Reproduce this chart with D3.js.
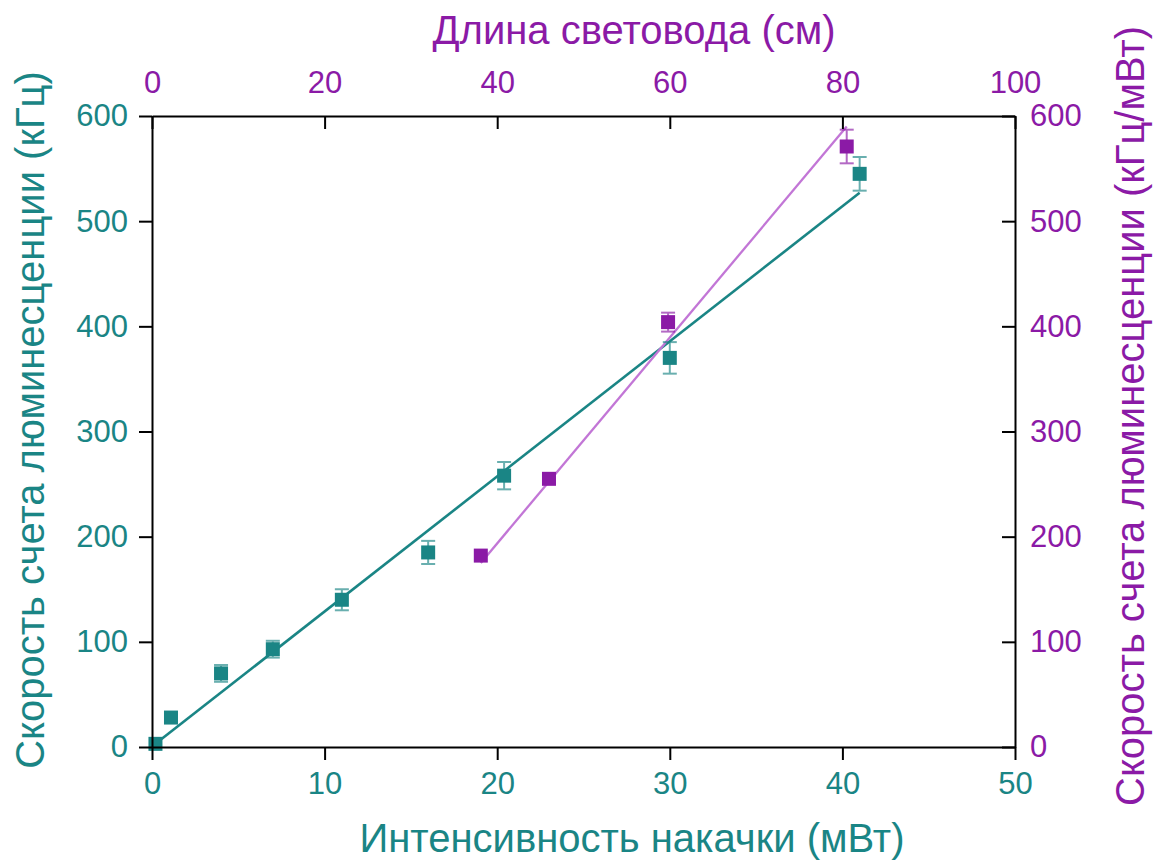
<!DOCTYPE html>
<html>
<head>
<meta charset="utf-8">
<script src="https://cdn.jsdelivr.net/npm/d3@7"></script>
<style>
  html, body { margin: 0; padding: 0; background: #ffffff; }
  svg { display: block; }
  text { font-family: "Liberation Sans", Arial, sans-serif; }
</style>
</head>
<body>
<svg id="chart" width="1157" height="861"></svg>
<script>
// Pump power series (bottom / left axes)
const powerX = [0.2, 1.1, 4.0, 7.0, 11.0, 16.0, 20.4, 30.0, 41.0];
const powerRate = [3, 28, 70, 93, 140, 185, 258, 370, 545];
const powerErr = [0, 3, 8, 8, 10, 11, 13, 15, 16];
const powerFitX = [0.2, 41.0];
const powerFitY = [3, 527];

// Fibre length series (top / right axes)
const lengthX = [38.1, 46.0, 59.8, 80.5];
const lengthRate = [182, 255, 404, 571];
const lengthErr = [0, 0, 9, 16];
const lengthFitX = [38.1, 80.5];
const lengthFitY = [175, 590];

// Axis ticks
const bottomTicks = [0, 10, 20, 30, 40, 50];
const bottomMinor = [5, 15, 25, 35, 45];
const topTicks = [0, 20, 40, 60, 80, 100];
const topMinor = [10, 30, 50, 70, 90];
const yTicks = [0, 100, 200, 300, 400, 500, 600];
const yMinor = [50, 150, 250, 350, 450, 550];

const TEAL = "#1a8585";
const PURPLE = "#8b1aa6";
const PURPLE_LINE = "#c276d6";

const L = 152, R = 1015, T = 116, B = 747;

const svg = d3.select("#chart");

const x = d3.scaleLinear().domain([0, 50]).range([L, R]);
const xTop = d3.scaleLinear().domain([0, 100]).range([L, R]);
const y = d3.scaleLinear().domain([0, 600]).range([B, T]);
const yRight = d3.scaleLinear().domain([0, 600]).range([B, T]);

const majorLen = 13, minorLen = 7;

function styleAxis(g, color) {
  g.select(".domain").attr("stroke", "#000").attr("stroke-width", 2);
  g.selectAll(".tick line").attr("stroke", "#000").attr("stroke-width", 2);
  g.selectAll(".tick text")
    .attr("fill", color)
    .style("font-size", "31px")
    .style("font-family", "'Liberation Sans', Arial, sans-serif");
}

// Fit lines
const line = d3.line().x(d => d[0]).y(d => d[1]);
svg.append("path")
  .attr("d", line(powerFitX.map((v, i) => [x(v), y(powerFitY[i])])))
  .attr("fill", "none").attr("stroke", TEAL).attr("stroke-width", 2.6);
svg.append("path")
  .attr("d", line(lengthFitX.map((v, i) => [xTop(v), yRight(lengthFitY[i])])))
  .attr("fill", "none").attr("stroke", PURPLE_LINE).attr("stroke-width", 2.3);

// Error bars and markers
function drawSeries(xs, ys, errs, sx, sy, color, size) {
  const g = svg.append("g");
  xs.forEach((xv, i) => {
    const e = errs[i];
    if (e > 0) {
      const cx = sx(xv), y1 = sy(ys[i] - e), y2 = sy(ys[i] + e);
      const eb = g.append("g").attr("stroke", color).attr("stroke-width", 2).attr("opacity", 0.65);
      eb.append("line").attr("x1", cx).attr("x2", cx).attr("y1", y1).attr("y2", y2);
      eb.append("line").attr("x1", cx - 7).attr("x2", cx + 7).attr("y1", y1).attr("y2", y1);
      eb.append("line").attr("x1", cx - 7).attr("x2", cx + 7).attr("y1", y2).attr("y2", y2);
    }
  });
  g.selectAll("rect.m").data(xs).join("rect")
    .attr("class", "m")
    .attr("x", (d) => sx(d) - size / 2)
    .attr("y", (d, i) => sy(ys[i]) - size / 2)
    .attr("width", size).attr("height", size)
    .attr("fill", color);
}
drawSeries(powerX, powerRate, powerErr, x, y, TEAL, 14);
drawSeries(lengthX, lengthRate, lengthErr, xTop, yRight, PURPLE, 14);

// Left axis
const gL = svg.append("g").attr("transform", `translate(${L},0)`);
gL.call(d3.axisLeft(y).tickValues(yMinor).tickSize(minorLen).tickSizeOuter(0).tickFormat(""));
gL.call(d3.axisLeft(y).tickValues(yTicks).tickSize(majorLen).tickSizeOuter(0).tickPadding(11).tickFormat(d3.format("d")));
styleAxis(gL, TEAL);

// Bottom axis
const gB = svg.append("g").attr("transform", `translate(0,${B})`);
gB.call(d3.axisBottom(x).tickValues(bottomMinor).tickSize(minorLen + 1).tickSizeOuter(0).tickFormat(""));
gB.call(d3.axisBottom(x).tickValues(bottomTicks).tickSize(majorLen).tickSizeOuter(0).tickPadding(12).tickFormat(d3.format("d")));
styleAxis(gB, TEAL);

// Top axis (ticks pointing inward)
const gT = svg.append("g").attr("transform", `translate(0,${T})`);
gT.call(d3.axisTop(xTop).tickValues(topMinor).tickSize(-minorLen).tickSizeOuter(0).tickFormat(""));
gT.call(d3.axisTop(xTop).tickValues(topTicks).tickSize(-majorLen).tickSizeOuter(0).tickPadding(23).tickFormat(d3.format("d")));
styleAxis(gT, PURPLE);

// Right axis (ticks pointing inward)
const gR = svg.append("g").attr("transform", `translate(${R},0)`);
gR.call(d3.axisRight(yRight).tickValues(yMinor).tickSize(-minorLen).tickSizeOuter(0).tickFormat(""));
gR.call(d3.axisRight(yRight).tickValues(yTicks).tickSize(-majorLen).tickSizeOuter(0).tickPadding(15).tickFormat(d3.format("d")));
styleAxis(gR, PURPLE);

// Axis titles
const titleSize = "40px";
svg.append("text")
  .attr("x", 632).attr("y", 852)
  .attr("text-anchor", "middle").attr("fill", TEAL).style("font-size", titleSize)
  .text("Интенсивность накачки (мВт)");
svg.append("text")
  .attr("x", 634).attr("y", 44)
  .attr("text-anchor", "middle").attr("fill", PURPLE).style("font-size", titleSize)
  .text("Длина световода (см)");
svg.append("text")
  .attr("transform", "translate(44,420) rotate(-90)")
  .attr("text-anchor", "middle").attr("fill", TEAL).style("font-size", titleSize)
  .text("Скорость счета люминесценции (кГц)");
svg.append("text")
  .attr("transform", "translate(1144,416) rotate(-90)")
  .attr("text-anchor", "middle").attr("fill", PURPLE).style("font-size", titleSize)
  .text("Скорость счета люминесценции (кГц/мВт)");
</script>
</body>
</html>
